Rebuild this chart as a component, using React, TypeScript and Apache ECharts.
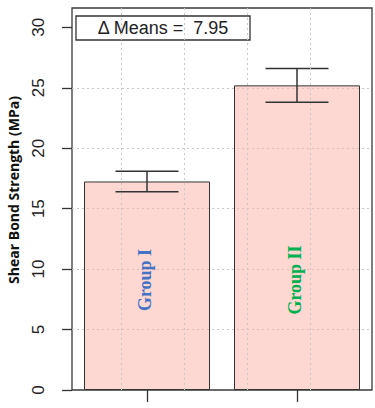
import React, { useEffect, useRef } from 'react';
import * as echarts from 'echarts';

const categories = ['Group I', 'Group II'];
const means = [17.25, 25.2];
const lowerErr = [16.4, 23.8];
const upperErr = [18.1, 26.6];
const yTickValues = [0, 5, 10, 15, 20, 25, 30];
const gridXValues = [0.5, 1.0, 1.5, 2.0];
const labelColors = ['#4472C4', '#00B050'];
const deltaMeans = 7.95;
const yTitle = 'Shear Bond Strength (MPa)';

export default function App() {
  const ref = useRef<HTMLDivElement>(null);
  useEffect(() => {
    const chart = echarts.init(ref.current!, null, { renderer: 'svg' });
    const labelValue = 9.1;
    chart.setOption({
      animation: false,
      grid: {
        left: 72, right: 3, top: 8, bottom: 18,
        show: true, borderColor: '#3a3a3a', borderWidth: 1.3, backgroundColor: 'transparent'
      },
      xAxis: [
        {
          type: 'category', data: categories,
          axisLine: { show: false },
          axisTick: { show: true, alignWithLabel: true, interval: 0, length: 12, lineStyle: { color: '#333', width: 1.3 } },
          axisLabel: { show: false },
          splitLine: { show: false }
        },
        {
          type: 'value', min: 0.112, max: 2.488, show: false,
          splitLine: { show: false }
        }
      ],
      yAxis: {
        type: 'value', min: 0, max: 31.6, interval: 5,
        axisLine: { show: false },
        axisTick: { show: true, length: 10, customValues: yTickValues, lineStyle: { color: '#333', width: 1.3 } },
        axisLabel: {
          customValues: yTickValues, rotate: 90, margin: 25, fontSize: 17,
          fontFamily: 'Liberation Sans', color: '#222'
        },
        splitLine: {
          show: true, showMinLine: false, showMaxLine: false,
          lineStyle: { type: [2, 3], color: '#c8c8c8', width: 1 }
        }
      },
      series: [
        {
          type: 'bar', data: means, barWidth: '84%', xAxisIndex: 0,
          itemStyle: { color: 'rgba(251,177,167,0.5)', borderColor: '#333', borderWidth: 1 },
          z: 2
        },
        {
          type: 'scatter', xAxisIndex: 1, data: [], z: 3,
          markLine: {
            silent: true, symbol: ['none', 'none'], label: { show: false },
            lineStyle: { type: [2, 3], color: '#c8c8c8', width: 1 },
            data: gridXValues.map((v) => ({ xAxis: v }))
          }
        },
        {
          type: 'custom', xAxisIndex: 0, z: 4,
          data: categories.map((c, i) => [i, lowerErr[i], upperErr[i]]),
          renderItem: (params: any, api: any) => {
            const i = api.value(0);
            const pLo = api.coord([i, api.value(1)]);
            const pHi = api.coord([i, api.value(2)]);
            const pLab = api.coord([i, labelValue]);
            const half = api.size([1, 0])[0] * 0.21;
            const ls = { stroke: '#333', lineWidth: 1.5 };
            return {
              type: 'group',
              children: [
                { type: 'line', shape: { x1: pLo[0], y1: pLo[1], x2: pHi[0], y2: pHi[1] }, style: ls },
                { type: 'line', shape: { x1: pLo[0] - half, y1: pLo[1], x2: pLo[0] + half, y2: pLo[1] }, style: ls },
                { type: 'line', shape: { x1: pHi[0] - half, y1: pHi[1], x2: pHi[0] + half, y2: pHi[1] }, style: ls },
                {
                  type: 'text', x: pLab[0] - 2, y: pLab[1], rotation: Math.PI / 2,
                  style: {
                    text: categories[i], fill: labelColors[i],
                    font: 'bold 18px "Liberation Serif"', align: 'center', verticalAlign: 'middle'
                  }
                }
              ]
            };
          }
        }
      ],
      graphic: [
        {
          type: 'group', x: 76, y: 16, z: 100,
          children: [
            { type: 'rect', shape: { x: 0, y: 0, width: 174, height: 24 }, style: { fill: '#fff', stroke: '#333', lineWidth: 1.3 } },
            {
              type: 'text', x: 87, y: 12,
              style: {
                text: `\u0394 Means =  ${deltaMeans.toFixed(2)}`, fill: '#222',
                font: '18px "Liberation Sans"', align: 'center', verticalAlign: 'middle'
              }
            }
          ]
        },
        {
          type: 'text', x: 13, y: 190, rotation: Math.PI / 2,
          style: {
            text: yTitle, fill: '#111', font: 'bold 14px "Open Sans"',
            align: 'center', verticalAlign: 'middle'
          }
        }
      ]
    });
    return () => chart.dispose();
  }, []);
  return <div ref={ref} style={{ position: 'absolute', left: 0, top: 0, width: 375, height: 408 }} />;
}
